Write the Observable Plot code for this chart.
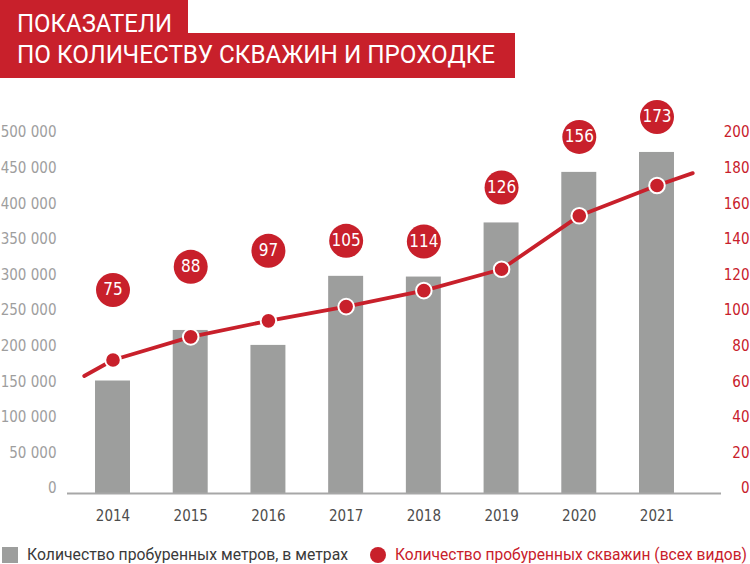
<!DOCTYPE html>
<html>
<head>
<meta charset="utf-8">
<script src="https://cdn.jsdelivr.net/npm/d3@7"></script>
<script src="https://cdn.jsdelivr.net/npm/@observablehq/plot@0.6"></script>
<style>
  body { margin: 0; background: #fff; }
  #wrap { position: relative; width: 750px; height: 564px; overflow: hidden; background: #fff; }
  .tbox { position: absolute; left: 0; background: #c8202b; }
  .fit { font-family: "Liberation Sans Narrow", Roboto, sans-serif; white-space: nowrap; position: absolute; transform-origin: 0 50%; }
  .ttext { left: 17px; color: #fff; font-size: 26.5px; line-height: 26.5px; }
  #chart { position: absolute; left: 0; top: 90px; }
  .leg { top: 547px; font-size: 16.4px; line-height: 16.4px; }
  .sw { position: absolute; top: 547px; width: 16px; height: 16px; }
</style>
</head>
<body>
<div id="wrap">
  <div class="tbox" style="top:0;width:188px;height:34px"></div>
  <div class="tbox" style="top:33px;width:515px;height:45px"></div>
  <div class="fit ttext" data-w="155" style="top:9.5px">ПОКАЗАТЕЛИ</div>
  <div class="fit ttext" data-w="478" style="top:40.5px">ПО КОЛИЧЕСТВУ СКВАЖИН И ПРОХОДКЕ</div>
  <div id="chart"></div>
  <div class="sw" style="left:2px;background:#9d9e9d"></div>
  <div class="fit leg" data-w="321" style="left:27px;color:#3a3a3a">Количество пробуренных метров, в метрах</div>
  <div class="sw" style="left:370px;background:#c8202b;border-radius:50%"></div>
  <div class="fit leg" data-w="352" style="left:395px;color:#c8202b">Количество пробуренных скважин (всех видов)</div>
</div>
<script>
const years = [2014, 2015, 2016, 2017, 2018, 2019, 2020, 2021];
const metres = [158000, 229000, 208000, 305000, 304000, 380000, 451000, 479000];
const wells = [75, 88, 97, 105, 114, 126, 156, 173];
// ends of the decorative trend line
const lineStart = { year: 2013.63, wells: 66 };
const lineEnd = { year: 2021.46, wells: 180 };
const leftTicks = [0, 50000, 100000, 150000, 200000, 250000, 300000, 350000, 400000, 450000, 500000];
const rightTicks = [0, 20, 40, 60, 80, 100, 120, 140, 160, 180, 200];

const RED = "#c8202b";
const ratio = 500000 / 200; // right axis -> left axis units

const data = years.map((year, i) => ({ year, metres: metres[i], wells: wells[i], w: wells[i] * ratio }));
const lineData = [
  { year: lineStart.year, w: lineStart.wells * ratio },
  ...data,
  { year: lineEnd.year, w: lineEnd.wells * ratio }
];
// label goes above the bar unless the bar top is too close to the dot
const clearance = 14000;
const aboveDot = data.filter(d => d.metres - d.w < clearance);
const aboveBar = data.filter(d => d.metres - d.w >= clearance);

const fmt = d => d3.format(",")(d).replace(/,/g, " ");

const chart = Plot.plot({
  width: 750,
  height: 440,
  marginLeft: 67,
  marginRight: 29,
  marginTop: 47,
  marginBottom: 37,
  style: "font-family:'DejaVu Sans Condensed','DejaVu Sans',sans-serif;overflow:visible;background:#fff",
  x: { type: "linear", domain: [2013.4145, 2021.83], axis: null },
  y: { domain: [0, 500000], axis: null },
  marks: [
    Plot.rect(data, { x1: d => d.year - 0.225, x2: d => d.year + 0.225, y1: 0, y2: "metres", fill: "#9d9e9d" }),
    Plot.ruleY([0], { stroke: "#a7a7a7", strokeWidth: 2 }),
    Plot.axisX({ ticks: years, tickFormat: d => String(d), label: null, tickSize: 0, tickPadding: 17, fontSize: 15, fill: "#4d4d4d" }),
    Plot.axisY({ anchor: "left", ticks: leftTicks, tickFormat: fmt, label: null, tickSize: 0, tickPadding: 11, fontSize: 15, fill: "#9e9e9e", dy: -5 }),
    Plot.axisY({ anchor: "right", ticks: rightTicks.map(v => v * ratio), tickFormat: d => String(Math.round(d / ratio)), label: null, tickSize: 0, tickPadding: 28, textAnchor: "end", fontSize: 15, fill: RED, dy: -5 }),
    Plot.line(lineData, { x: "year", y: "w", stroke: RED, strokeWidth: 3.8 }),
    Plot.dot(data, { x: "year", y: "w", r: 7.8, fill: RED, stroke: "#fff", strokeWidth: 2 }),
    Plot.dot(aboveBar, { x: "year", y: "metres", r: 17, fill: RED, dy: -35.5 }),
    Plot.text(aboveBar, { x: "year", y: "metres", text: d => String(d.wells), dy: -35.5, fill: "#fff", fontSize: 17 }),
    Plot.dot(aboveDot, { x: "year", y: "w", r: 17, fill: RED, dy: -70 }),
    Plot.text(aboveDot, { x: "year", y: "w", text: d => String(d.wells), dy: -70, fill: "#fff", fontSize: 17 })
  ]
});
document.getElementById("chart").appendChild(chart);

// fit the HTML texts to the widths they have in the reference
document.querySelectorAll(".fit[data-w]").forEach(el => {
  const w = el.getBoundingClientRect().width;
  if (w > 0) el.style.transform = `scaleX(${(+el.dataset.w / w).toFixed(4)})`;
});
</script>
</body>
</html>
